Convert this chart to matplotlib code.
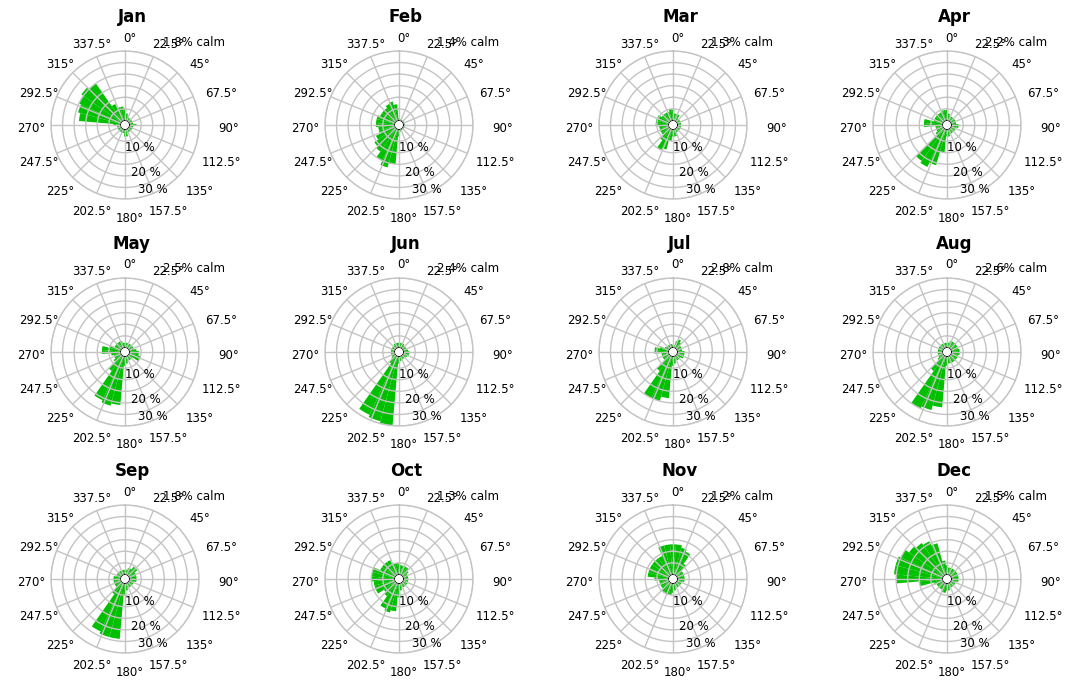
import numpy as np
import matplotlib
matplotlib.use("Agg")
import matplotlib.pyplot as plt

months = ["Jan", "Feb", "Mar", "Apr", "May", "Jun",
          "Jul", "Aug", "Sep", "Oct", "Nov", "Dec"]
calm = [1.8, 1.4, 1.3, 2.2, 2.5, 2.4, 2.8, 2.6, 1.8, 1.3, 1.2, 1.5]

# percent frequency per 10 degree sector, 0 deg first, going clockwise
freq = {
    "Jan": [5, 3, 2, 1.5, 1.5, 1.5, 1.5, 1.5, 1.5, 3, 1.5, 1.5, 1.5, 1.5, 1.5, 1.5, 1.5, 3,
            3, 1.5, 1.5, 1.5, 1.5, 1.5, 1.5, 1.5, 1.5, 3, 18, 19, 20, 21, 20, 8, 6, 6],
    "Feb": [1, 0.5, 0.5, 0.5, 0.5, 0.5, 0.5, 0.5, 0.5, 0.5, 0.5, 0.5, 0.5, 0.5, 0.5, 0.5, 0.5, 1,
            3, 15, 17, 15, 12, 11, 9, 7, 7, 8, 8, 8, 7, 7, 7, 8, 8.5, 7],
    "Mar": [5, 3, 3, 3, 1.5, 1.5, 1.5, 1.5, 1.5, 1.5, 1.5, 1.5, 1.5, 1.5, 1.5, 1.5, 3, 3,
            3, 5, 9, 10, 6, 4, 4, 4, 4, 5.5, 5.5, 5.5, 5.5, 4, 4, 4, 4, 5],
    "Apr": [4.5, 3, 2, 2, 2, 2, 2, 2, 2, 3, 3, 2, 2, 2, 2, 2, 2, 3,
            3, 10, 16, 18, 17, 4, 3, 3, 3, 8, 8, 4, 4, 4, 4, 4, 4.5, 4.5],
    "May": [2, 2, 2, 2, 2, 2, 2, 2, 3, 4, 4, 5, 5, 2, 2, 2, 2, 3,
            4, 21, 22, 21, 8, 4, 3, 3, 4, 8, 8, 5, 3, 3, 3, 3, 3, 2],
    "Jun": [2, 2, 2, 2, 1.5, 1.5, 1.5, 1.5, 2, 2.5, 2.5, 2.5, 2, 1.5, 1.5, 1.5, 1.5, 2,
            3, 30, 29, 28, 4, 2, 1.5, 1.5, 1.5, 1.5, 1.5, 1.5, 1.5, 1.5, 1.5, 2, 2, 2],
    "Jul": [1, 1, 3, 4, 3, 2, 2, 2, 2, 3, 3, 3, 3, 2, 2, 2, 2, 3,
            4, 18, 20, 20, 8, 3, 3, 3, 3, 6, 6, 4, 2, 1.5, 1.5, 1.5, 1.5, 1.5],
    "Aug": [2, 2, 3, 3, 3, 3, 3, 3, 3.5, 3.5, 3.5, 3, 3, 3, 3, 3, 3, 3,
            4, 22, 24, 25, 8, 3, 2, 2, 2, 2, 2, 2, 2, 2, 2, 2, 2, 2],
    "Sep": [2, 2, 3, 3, 4.5, 4.5, 3, 3, 3, 3, 3, 2, 2, 2, 2, 2, 2, 3,
            5, 24, 24, 23, 6, 3, 3, 3, 3, 3, 3, 2, 2, 2, 2, 2, 2, 2],
    "Oct": [5, 4, 4, 4, 4, 3, 2, 2, 2, 2, 2, 2, 2, 2, 2, 2, 2, 3,
            6, 12, 13, 12, 7, 6, 9, 9, 9, 10, 10, 10, 7, 7, 7, 7, 5, 5],
    "Nov": [13, 13, 12, 11, 6, 3, 3, 3, 3, 3, 3, 2, 2, 2, 2, 2, 2, 3,
            4, 5, 5, 5, 5, 4, 4, 4, 4, 6, 9, 9, 9, 9, 9, 9, 13, 13],
    "Dec": [4, 3, 3, 3, 3, 3, 3, 3, 3, 3, 3, 2, 2, 2, 2, 2, 2, 3,
            3, 4, 4, 3, 3, 3, 3, 4, 10, 20, 21, 21, 20, 18, 17, 16, 14, 6],
}

dir_labels = ["0°", "22.5°", "45°", "67.5°", "90°", "112.5°", "135°", "157.5°",
              "180°", "202.5°", "225°", "247.5°", "270°", "292.5°", "315°", "337.5°"]
rings = [5, 10, 15, 20, 25, 30]
ring_labels = ["10 %", "20 %", "30 %"]
ring_label_pos = [(147, 9.5), (156, 20.5), (157, 28.3)]  # (deg, r)

W, H = 1071, 681
R = 74  # rose radius in pixels
grid_col = "#c4c4c4"
green = "#00c000"
font = "DejaVu Sans"

fig = plt.figure(figsize=(W / 100, H / 100), dpi=100)

theta = np.deg2rad(np.arange(0, 360, 10))
width = np.deg2rad(10)

for i, m in enumerate(months):
    row, col = divmod(i, 4)
    px = 125 + col * 274
    py = 125 + row * 227
    ax = fig.add_axes([(px - R) / W, 1 - (py + R) / H, 2 * R / W, 2 * R / H],
                      projection="polar")
    ax.set_theta_zero_location("N")
    ax.set_theta_direction(-1)
    ax.set_rorigin(-2)
    ax.set_ylim(0, 30)

    ax.bar(theta, freq[m], width=width, bottom=0, color=green,
           edgecolor="none", zorder=1)

    ax.set_xticks(np.deg2rad(np.arange(0, 360, 22.5)))
    ax.set_xticklabels([])
    ax.set_yticks(rings)
    ax.set_yticklabels([])
    ax.tick_params(length=0)
    ax.grid(True, color=grid_col, linewidth=1.0)
    ax.set_axisbelow(False)
    ax.spines["polar"].set_color(grid_col)
    ax.spines["polar"].set_linewidth(1.0)

    # compass labels around the rose
    for k, lab in enumerate(dir_labels):
        a = np.deg2rad(k * 22.5)
        dx = 99 * np.sin(a) + 5
        dy = -90 * np.cos(a) + 3
        fig.text((px + dx) / W, 1 - (py + dy) / H, lab, fontsize=8.5,
                 family=font, ha="center", va="center")

    for lab, (a, r) in zip(ring_labels, ring_label_pos):
        ax.text(np.deg2rad(a), r, lab, fontsize=8.5, family=font,
                ha="center", va="center", zorder=5)

    fig.text((px + 7) / W, 1 - (py - 108) / H, m, fontsize=12, fontweight="bold",
             family=font, ha="center", va="center")
    fig.text((px + 38) / W, 1 - (py - 83) / H, f"{calm[i]}% calm", fontsize=8.5,
             family=font, ha="left", va="center")

fig.savefig("out.png", dpi=100)
